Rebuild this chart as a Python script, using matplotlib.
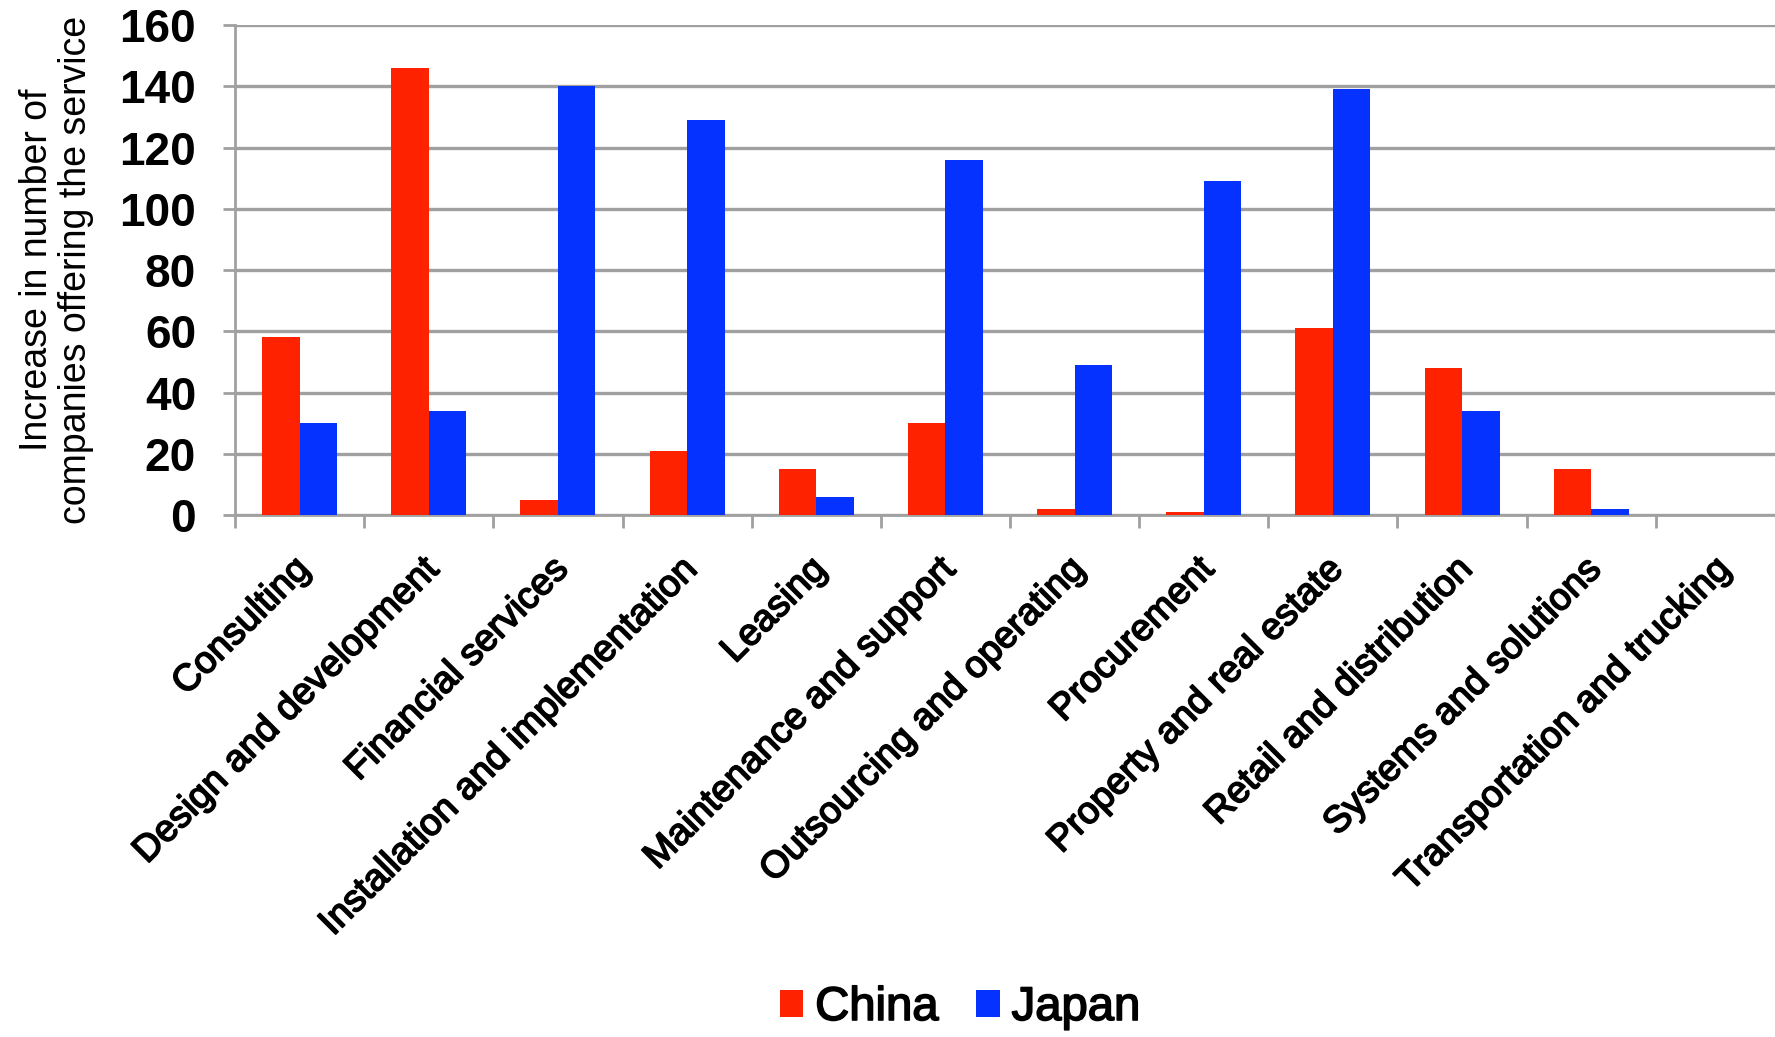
import numpy as np
import matplotlib
matplotlib.use("Agg")
import matplotlib.pyplot as plt
import matplotlib.patheffects as pe
import matplotlib.transforms as mtrans

categories = ["Consulting", "Design and development", "Financial services",
              "Installation and implementation", "Leasing", "Maintenance and support",
              "Outsourcing and operating", "Procurement", "Property and real estate",
              "Retail and distribution", "Systems and solutions", "Transportation and trucking"]
china = [58, 146, 5, 21, 15, 30, 2, 1, 61, 48, 15, 0]
japan = [30, 34, 140, 129, 6, 116, 49, 109, 139, 34, 2, 0]
yticks = [0, 20, 40, 60, 80, 100, 120, 140, 160]

RED, BLUE, GRID = "#ff2200", "#0532ff", "#a0a0a0"
plt.rcParams.update({"font.family": ["Liberation Sans", "DejaVu Sans"]})
thick = [pe.withStroke(linewidth=1.2, foreground="black")]

fig = plt.figure(figsize=(17.75, 10.37), dpi=100)
ax = fig.add_axes([235 / 1775, 1 - 515 / 1037, 1550 / 1775, 490 / 1037])

x = np.arange(len(categories))
w = 0.29
ax.bar(x - w / 2, china, w, color=RED, label="China", zorder=3)
ax.bar(x + w / 2, japan, w, color=BLUE, label="Japan", zorder=3)

ax.set_xlim(-0.5, len(categories) - 0.5)
ax.set_ylim(0, 160)
ax.set_yticks(yticks)
ax.yaxis.grid(True, color=GRID, lw=2.4, zorder=0)
ax.set_axisbelow(True)
for s in ("top", "right"):
    ax.spines[s].set_visible(False)
for s in ("left", "bottom"):
    ax.spines[s].set_color(GRID)
    ax.spines[s].set_linewidth(2.0)

ax.tick_params(axis="y", length=9, width=2.0, color=GRID, pad=19)
for lab in ax.get_yticklabels():
    lab.set_fontweight("bold")
    lab.set_fontsize(33)

ax.set_xticks(x)
ax.set_xticks(np.arange(len(categories) + 1) - 0.5, minor=True)
ax.tick_params(axis="x", which="major", length=0, pad=26)
ax.tick_params(axis="x", which="minor", length=9, width=2.0, color=GRID)
ax.set_xticklabels(categories, rotation=45, ha="right", rotation_mode="anchor",
                   fontsize=27, path_effects=thick)
shift = mtrans.ScaledTranslation(-8 / 100, 0, fig.dpi_scale_trans)
for lab in ax.get_xticklabels():
    lab.set_transform(lab.get_transform() + shift)

ax.set_ylabel("Increase in number of\ncompanies offering the service", fontsize=27,
              linespacing=1.1)
ax.yaxis.set_label_coords(-0.091, 0.5)

fig.legend(loc="center", bbox_to_anchor=(960 / 1775, 1 - 1008 / 1037), ncol=2,
           frameon=False, handlelength=0.5, handleheight=0.5,
           handletextpad=0.25, columnspacing=0.8, prop={"size": 34})
for t in fig.legends[0].get_texts():
    t.set_path_effects(thick)

fig.savefig("out.png", dpi=100)
